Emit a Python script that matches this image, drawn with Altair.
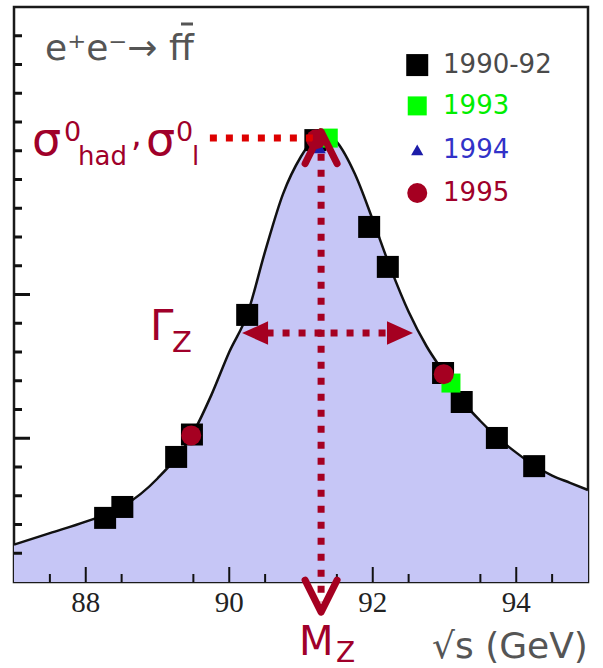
import altair as alt
import pandas as pd

# ---------------- data ----------------
X_DOMAIN = [87, 95]
Y_DOMAIN = [0, 20]

# fitted Z lineshape
curve_x = [87.0, 87.5, 88.0, 88.5, 89.0, 89.5, 89.75, 90.0, 90.25, 90.5, 90.75, 91.0,
           91.25, 91.3, 91.5, 91.75, 92.0, 92.25, 92.5, 92.75, 93.0, 93.25, 93.5,
           93.75, 94.0, 94.25, 94.5, 94.75, 95.0]
curve_y = [1.3, 1.7, 2.1, 2.6, 3.6, 5.2, 6.5, 8.0, 9.3, 11.5, 13.5, 14.8,
           15.58, 15.62, 15.3, 14.2, 12.6, 10.9, 9.4, 8.2, 7.25, 6.3, 5.6,
           5.0, 4.5, 4.05, 3.7, 3.45, 3.2]

series_names = ["1990-92", "1993", "1994", "1995"]
series_colors = ["#000000", "#00ff00", "#1c1ca8", "#a50021"]
series_shapes = ["square", "square", "triangle-up", "circle"]
series_sizes = [484, 361, 150, 400]
label_colors = ["#4a4a4a", "#00ee00", "#3232c8", "#a0002a"]

x_9092 = [88.27, 88.51, 89.26, 89.48, 90.25, 91.20, 91.95, 92.21, 92.98, 93.24, 93.73, 94.25]
y_9092 = [2.23, 2.61, 4.35, 5.13, 9.29, 15.37, 12.35, 10.96, 7.27, 6.26, 5.01, 4.03]
x_93 = [91.38, 93.09]
y_93 = [15.44, 6.92]
x_94 = [91.26]
y_94 = [15.10]
x_95 = [89.47, 91.21, 92.99]
y_95 = [5.10, 15.40, 7.23]

legend_y = [17.98, 16.56, 15.03, 13.53]
legend_x_sym = [92.62] * 4
legend_x_txt = [92.98] * 4

x_major = [88, 90, 92, 94]
x_labels = ["88", "90", "92", "94"]
x_minor = [87.5, 88.5, 89.5, 90.5, 91.5, 92.5, 93.5, 94.5]
y_major = [5, 10]
y_minor = [1, 2, 3, 4, 6, 7, 8, 9, 11, 12, 13, 14, 15, 16, 17, 18, 19]

# physics annotations (data units)
mz = 91.28
sigma_peak = 15.44
sigma_line_x = [89.73, 91.28]
mz_line_y = [14.9, -0.7]
mz_up_head_y = 15.11
mz_down_head_y = -0.49
gamma_y = 8.66
gamma_shaft_x = [90.52, 92.22]
gamma_head_left_x = 90.36
gamma_head_right_x = 92.38

# text annotations (pixel positions in the page)
annot_text = ["σ", "0", "had", ",", "σ", "0", "l", "Γ", "Z", "M", "Z",
              "e⁺e⁻→ ff", "√s (GeV)"]
annot_px = [32, 64, 78, 131, 146, 176, 192, 150, 172, 299, 336, 45, 432]
annot_py = [155, 141, 165, 146, 155, 141, 165, 340, 352, 655, 662, 60, 658]
annot_size = [46, 27, 26, 34, 46, 27, 26, 42, 29, 40, 28, 36, 36]
annot_color = ["#a0002a"] * 11 + ["#555555", "#555555"]
# bar over the anti-fermion "f" (page pixels)
fbar_px = [181, 193]
fbar_py = 24

# ---------------- layout ----------------
PAD_L, PAD_T, PAD_R, PAD_B = 14, 7, 15, 86
W, H = 603 - PAD_L - PAD_R, 668 - PAD_T - PAD_B

xs = alt.Scale(domain=X_DOMAIN, nice=False, zero=False)
ys = alt.Scale(domain=Y_DOMAIN, nice=False, zero=False)
DARK_RED = "#a50021"

curve_df = pd.DataFrame({"x": curve_x, "y": curve_y})

area = alt.Chart(curve_df).mark_area(color="#c6c6f6", opacity=1, interpolate="monotone").encode(
    x=alt.X("x:Q", scale=xs, axis=None),
    y=alt.Y("y:Q", scale=ys, axis=None),
)
line = alt.Chart(curve_df).mark_line(color="#111111", strokeWidth=2.5, interpolate="monotone").encode(
    x=alt.X("x:Q", axis=None), y=alt.Y("y:Q", axis=None))

# points
rows = []
for name, xv, yv in zip(series_names, [x_9092, x_93, x_94, x_95], [y_9092, y_93, y_94, y_95]):
    i = series_names.index(name)
    for a, b in zip(xv, yv):
        rows.append({"x": a, "y": b, "color": series_colors[i], "shape": series_shapes[i],
                     "size": series_sizes[i]})
pts_df = pd.DataFrame(rows)
points = alt.Chart(pts_df).mark_point(filled=True, opacity=1).encode(
    x=alt.X("x:Q", axis=None), y=alt.Y("y:Q", axis=None),
    color=alt.Color("color:N", scale=None),
    shape=alt.Shape("shape:N", scale=None),
    size=alt.Size("size:Q", scale=None),
)

# legend
leg_df = pd.DataFrame({"label": series_names, "y": legend_y, "xs": legend_x_sym, "xt": legend_x_txt,
                       "color": series_colors, "shape": series_shapes, "size": series_sizes,
                       "tcolor": label_colors})
leg_sym = alt.Chart(leg_df).mark_point(filled=True, opacity=1).encode(
    x=alt.X("xs:Q", axis=None), y=alt.Y("y:Q", axis=None),
    color=alt.Color("color:N", scale=None),
    shape=alt.Shape("shape:N", scale=None),
    size=alt.Size("size:Q", scale=None),
)
leg_txt = alt.Chart(leg_df).mark_text(align="left", baseline="middle", font="DejaVu Sans",
                                      fontSize=26).encode(
    x=alt.X("xt:Q", axis=None), y=alt.Y("y:Q", axis=None), text="label:N",
    color=alt.Color("tcolor:N", scale=None),
)

# ticks and tick labels
def ticks_x(vals, length):
    df = pd.DataFrame({"v": vals, "b": [0] * len(vals)})
    return alt.Chart(df).mark_tick(orient="vertical", size=length, thickness=2, color="#111111",
                                   opacity=1, yOffset=-length / 2).encode(
        x=alt.X("v:Q", axis=None), y=alt.Y("b:Q", axis=None))

def ticks_y(vals, length):
    df = pd.DataFrame({"v": vals, "b": [X_DOMAIN[0]] * len(vals)})
    return alt.Chart(df).mark_tick(orient="horizontal", size=length, thickness=3, color="#111111",
                                   opacity=1, xOffset=length / 2).encode(
        x=alt.X("b:Q", axis=None), y=alt.Y("v:Q", axis=None))

xlab_df = pd.DataFrame({"v": x_major, "t": x_labels, "b": [0] * len(x_major)})
x_tick_labels = alt.Chart(xlab_df).mark_text(baseline="top", align="center", dy=7,
                                             font="Liberation Serif", fontSize=29,
                                             color="#222222").encode(
    x=alt.X("v:Q", axis=None), y=alt.Y("b:Q", axis=None), text="t:N")

# dotted guide lines
sig_df = pd.DataFrame({"x": [sigma_line_x[0]], "x2": [sigma_line_x[1]], "y": [sigma_peak]})
sig_line = alt.Chart(sig_df).mark_rule(color="#dd0000", strokeWidth=7, strokeDash=[7, 9]).encode(
    x=alt.X("x:Q", axis=None), x2="x2:Q", y=alt.Y("y:Q", axis=None))

mz_df = pd.DataFrame({"x": [mz], "y": [mz_line_y[0]], "y2": [mz_line_y[1]]})
mz_line = alt.Chart(mz_df).mark_rule(color=DARK_RED, strokeWidth=7, strokeDash=[7, 9]).encode(
    x=alt.X("x:Q", axis=None), y=alt.Y("y:Q", axis=None), y2="y2:Q")

g_df = pd.DataFrame({"x": [gamma_shaft_x[0]], "x2": [gamma_shaft_x[1]], "y": [gamma_y]})
g_line = alt.Chart(g_df).mark_rule(color=DARK_RED, strokeWidth=7, strokeDash=[7, 9]).encode(
    x=alt.X("x:Q", axis=None), x2="x2:Q", y=alt.Y("y:Q", axis=None))

def head(xv, yv, path, size, filled):
    df = pd.DataFrame({"x": [xv], "y": [yv]})
    kw = dict(shape=path, size=size, opacity=1, filled=filled, color=DARK_RED)
    if not filled:
        kw.update(strokeWidth=7, strokeCap="round", strokeJoin="round")
    return alt.Chart(df).mark_point(**kw).encode(x=alt.X("x:Q", axis=None), y=alt.Y("y:Q", axis=None))

up_head = head(mz, mz_up_head_y, "M-0.5,0.5L0,-0.5L0.5,0.5", 4096, False)
down_head = head(mz, mz_down_head_y, "M-0.5,-0.5L0,0.5L0.5,-0.5", 4096, False)
left_head = head(gamma_head_left_x, gamma_y, "M1,-0.9L1,0.9L-1,0Z", 676, True)
right_head = head(gamma_head_right_x, gamma_y, "M-1,-0.9L-1,0.9L1,0Z", 676, True)

# text annotations
texts = []
for t, px, py, s, c in zip(annot_text, annot_px, annot_py, annot_size, annot_color):
    texts.append(alt.Chart(pd.DataFrame({"t": [t]})).mark_text(
        align="left", baseline="alphabetic", font="DejaVu Sans", fontSize=s, color=c).encode(
        x=alt.value(px - PAD_L), y=alt.value(py - PAD_T), text="t:N"))

fbar = alt.Chart(pd.DataFrame({"k": [0]})).mark_rule(color="#555555", strokeWidth=3).encode(
    x=alt.value(fbar_px[0] - PAD_L), x2=alt.value(fbar_px[1] - PAD_L), y=alt.value(fbar_py - PAD_T))

chart = alt.layer(
    area, line,
    ticks_x(x_major, 15), ticks_x(x_minor, 8), ticks_y(y_major, 16), ticks_y(y_minor, 8),
    x_tick_labels,
    points, leg_sym, leg_txt,
    sig_line, mz_line, g_line, up_head, down_head, left_head, right_head,
    *texts, fbar,
).properties(
    width=W, height=H,
    padding={"left": PAD_L, "top": PAD_T, "right": PAD_R, "bottom": PAD_B},
    autosize=alt.AutoSizeParams(type="none"),
    background="white",
).configure_view(stroke="#1a1a1a", strokeWidth=2.5)

chart.save("out.html", embed_options={"renderer": "svg", "actions": False})
